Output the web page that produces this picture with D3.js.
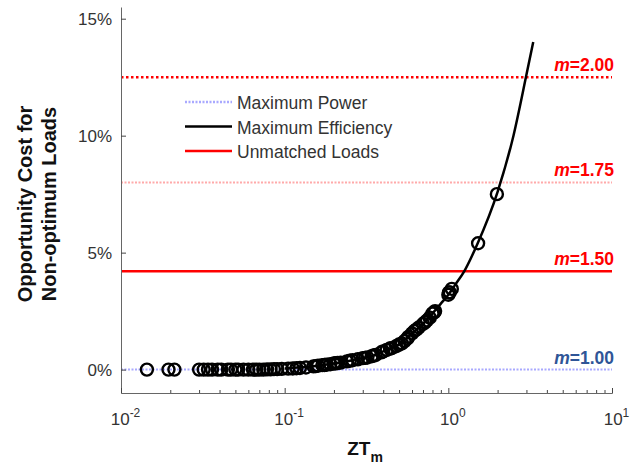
<!DOCTYPE html>
<html lang="en">
<head>
    <meta charset="UTF-8">
    <title>Opportunity cost</title>
</head>
<style>
    html,
    body {
        margin: 0;
        padding: 0;
        background: #fff;
    }
    text {
        font-family: Arial, "Liberation Sans", sans-serif;
    }
</style>
<body>
    <script src="https://cdn.jsdelivr.net/npm/d3@7/dist/d3.min.js"></script>
    <script>
        // curve: max efficiency opportunity cost vs ZT (percent)
        var curveZT = [0.1, 0.15, 0.2, 0.25, 0.3, 0.35, 0.4, 0.5, 0.6, 0.7, 0.8, 0.9, 1.0, 1.1, 1.25, 1.5, 2.0, 2.5, 3.0, 3.3];
        var curveCost = [0.05, 0.14, 0.26, 0.38, 0.49, 0.6, 0.78, 1.07, 1.55, 1.95, 2.4, 2.82, 3.2, 3.62, 4.2, 5.35, 7.6, 10.0, 12.6, 14.0];

        // materials (circles)
        var pointZT = [0.0144, 0.0195, 0.0212, 0.030, 0.032, 0.034, 0.036, 0.039, 0.041, 0.045, 0.047, 0.050, 0.052,
            0.056, 0.060, 0.064, 0.067, 0.070, 0.074, 0.078, 0.082, 0.086, 0.090, 0.096, 0.105, 0.112, 0.118, 0.124,
            0.135, 0.15, 0.155, 0.16, 0.17, 0.175, 0.18, 0.19, 0.2, 0.205, 0.21, 0.22, 0.24, 0.25, 0.26, 0.28, 0.3,
            0.31, 0.32, 0.34, 0.35, 0.36, 0.39, 0.4, 0.42, 0.44, 0.45, 0.48, 0.5, 0.52, 0.54, 0.56, 0.57, 0.6, 0.62,
            0.64, 0.66, 0.7, 0.72, 0.74, 0.77, 0.8, 0.82, 0.83, 1.0, 1.01, 1.02, 1.05, 1.52, 1.98];
        var pointCost = [0, 0, 0, 0, 0, 0, 0, 0, 0, 0, 0, 0, 0,
            0, 0, 0, 0, 0, 0, 0.01, 0.01, 0.02, 0.02, 0.03, 0.04, 0.05, 0.06, 0.07,
            0.09, 0.14, 0.15, 0.17, 0.19, 0.2, 0.21, 0.23, 0.26, 0.27, 0.28, 0.3, 0.35, 0.38, 0.4, 0.44, 0.49,
            0.5, 0.52, 0.57, 0.6, 0.63, 0.74, 0.78, 0.84, 0.9, 0.92, 1.0, 1.07, 1.12, 1.22, 1.32, 1.4, 1.55, 1.65,
            1.72, 1.8, 1.95, 2.02, 2.1, 2.22, 2.4, 2.45, 2.5, 3.2, 3.3, 3.3, 3.45, 5.4, 7.5];

        // unmatched load lines
        var mLabels = ["2.00", "1.75", "1.50", "1.00"];
        var mCost = [12.5, 8.0, 4.2, 0];

        var yTicks = [0, 5, 10, 15];
        var xTicks = [0.01, 0.1, 1, 10];
        var xExp = ["-2", "-1", "0", "1"];

        var legendNames = ["Maximum Power", "Maximum Efficiency", "Unmatched Loads"];

        var W = 634, H = 465;
        var svg = d3.select('body').append('svg').attr('width', W).attr('height', H);

        var x = d3.scaleLog().domain([0.01, 10]).range([121, 612]);
        var y = d3.scaleLinear().domain([-1, 15.5]).range([393, 7]);

        var mStyle = [
            { color: '#ff0000', dash: '2.5,2.5', width: 2.5, label: '#ff0000' },
            { color: '#ffaaaa', dash: '2,1.5', width: 2, label: '#ff0000' },
            { color: '#ff0000', dash: null, width: 2.5, label: '#ff0000' },
            { color: '#a9a9ff', dash: '2,1.5', width: 2, label: '#2f5597' }
        ];

        // horizontal lines
        mCost.forEach(function (c, i) {
            svg.append('line')
                .attr('x1', x(0.01)).attr('x2', x(10))
                .attr('y1', y(c)).attr('y2', y(c))
                .attr('stroke', mStyle[i].color)
                .attr('stroke-width', mStyle[i].width)
                .attr('stroke-dasharray', mStyle[i].dash);
            var t = svg.append('text')
                .attr('x', x(10) + 2).attr('y', y(c) - 6)
                .attr('text-anchor', 'end')
                .attr('font-size', 17.5).attr('font-weight', 'bold')
                .attr('fill', mStyle[i].label);
            t.append('tspan').attr('font-style', 'italic').text('m');
            t.append('tspan').text('=' + mLabels[i]);
        });

        // axes
        var yAxis = d3.axisLeft(y).tickValues(yTicks).tickSize(-5).tickSizeOuter(0).tickPadding(9)
            .tickFormat(function (d) { return d + '%'; });
        var gy = svg.append('g').attr('transform', 'translate(' + x(0.01) + ',0)').call(yAxis);
        gy.selectAll('text').attr('font-size', 17).attr('fill', '#333');

        var minor = [];
        for (var e = -2; e < 1; e++) {
            for (var k = 2; k < 10; k++) minor.push(k * Math.pow(10, e));
        }
        var gxm = svg.append('g').attr('transform', 'translate(0,' + y(-1) + ')')
            .call(d3.axisBottom(x).tickValues(minor).tickSize(-3).tickSizeOuter(0).tickFormat(''));
        var gx = svg.append('g').attr('transform', 'translate(0,' + y(-1) + ')')
            .call(d3.axisBottom(x).tickValues(xTicks).tickSize(-5).tickSizeOuter(0).tickFormat(''));
        gx.selectAll('.tick').each(function (d, i) {
            var t = d3.select(this).append('text')
                .attr('y', 32).attr('x', 4)
                .attr('text-anchor', 'middle')
                .attr('font-size', 17).attr('fill', '#333');
            t.append('tspan').text('10');
            t.append('tspan').attr('dy', -8).attr('font-size', 12).text(xExp[i]);
        });
        svg.selectAll('.domain').attr('stroke', '#666');
        svg.selectAll('.tick line').attr('stroke', '#444');

        // axis labels
        var yl = svg.append('text')
            .attr('transform', 'translate(0,204) rotate(-90)')
            .attr('text-anchor', 'middle')
            .attr('font-size', 20).attr('font-weight', 'bold').attr('fill', '#111');
        yl.append('tspan').attr('x', 0).attr('y', 32).text('Opportunity Cost for');
        yl.append('tspan').attr('x', 0).attr('y', 56).text('Non-optimum Loads');

        var xl = svg.append('text')
            .attr('x', 365).attr('y', 455)
            .attr('text-anchor', 'middle')
            .attr('font-size', 19).attr('font-weight', 'bold').attr('fill', '#111');
        xl.append('tspan').text('ZT');
        xl.append('tspan').attr('dy', 7).attr('font-size', 14).text('m');

        // curve
        var curveData = curveZT.map(function (d, i) { return [d, curveCost[i]]; });
        var line = d3.line()
            .x(function (d) { return x(d[0]); })
            .y(function (d) { return y(d[1]); })
            .curve(d3.curveMonotoneX);
        svg.append('path').datum(curveData)
            .attr('d', line)
            .attr('fill', 'none')
            .attr('stroke', '#000')
            .attr('stroke-width', 2.5);

        // markers
        var pts = pointZT.map(function (d, i) { return [d, pointCost[i]]; });
        svg.append('g').selectAll('circle').data(pts).enter().append('circle')
            .attr('cx', function (d) { return x(d[0]); })
            .attr('cy', function (d) { return y(d[1]); })
            .attr('r', 6)
            .attr('fill', 'none')
            .attr('stroke', '#000')
            .attr('stroke-width', 2.4);

        // legend
        var legColor = ['#a9a9ff', '#000', '#ff0000'];
        var legDash = ['2,1.5', null, null];
        var legend = svg.append('g').attr('transform', 'translate(185,102)');
        legendNames.forEach(function (n, i) {
            legend.append('line')
                .attr('x1', 0).attr('x2', 47)
                .attr('y1', i * 24.5).attr('y2', i * 24.5)
                .attr('stroke', legColor[i])
                .attr('stroke-width', 2.5)
                .attr('stroke-dasharray', legDash[i]);
            legend.append('text')
                .attr('x', 52).attr('y', i * 24.5 + 7)
                .attr('font-size', 17.5).attr('fill', '#333')
                .text(n);
        });
    </script>
</body>
</html>
